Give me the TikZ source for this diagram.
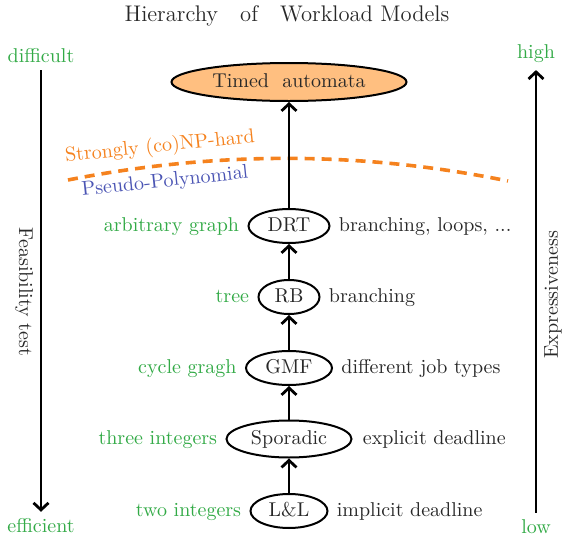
\documentclass[tikz,border=0pt]{standalone}
\usetikzlibrary{arrows.meta,shapes.geometric,positioning}
\definecolor{lblgreen}{RGB}{50,170,70}
\definecolor{hardorange}{RGB}{245,130,30}
\definecolor{pseudoblue}{RGB}{75,85,180}
\definecolor{txtgray}{RGB}{40,40,40}
\begin{document}
\begin{tikzpicture}[x=0.5pt,y=-0.5pt,
  every node/.style={text=txtgray},
  model/.style={ellipse,draw=black,line width=1pt,inner sep=0pt,
                text height=6.9pt,text depth=1.9pt},
  kind/.style={text=lblgreen,inner sep=0pt,text height=6.9pt,text depth=1.9pt},
  feat/.style={text=txtgray,inner sep=0pt,text height=6.9pt,text depth=1.9pt},
  endlbl/.style={text=lblgreen},
  up/.style={line width=1.4pt,-{Straight Barb[length=3.5pt,width=7.5pt]}},
  side/.style={line width=1.4pt,-{Straight Barb[length=3.5pt,width=7.5pt]}}]
\useasboundingbox (0,0) rectangle (564,536);

% title
\node[font=\fontsize{11.3}{13.5}\selectfont] (title) at (287,16) {Hierarchy~~~of~~~Workload Models};

% complexity border
\coordinate (cl) at (68,180);
\coordinate (cr) at (508,181);
\draw[hardorange,line width=1.8pt,dash pattern=on 5pt off 3.5pt]
  (cl) .. controls (215,151) and (361,151) .. (cr);
\node[text=hardorange,rotate=6] (hard) at (160,147) {Strongly (co)NP-hard};
\node[text=pseudoblue,rotate=6] (pseudo) at (165,182) {Pseudo-Polynomial};

% workload models
\node[model,fill=orange!50,minimum width=117.5pt,minimum height=19pt] (ta) at (289,82) {Timed~~automata};
\node[model,minimum width=40.5pt,minimum height=17pt] (drt) at (289,226) {DRT};
\node[model,minimum width=30.5pt,minimum height=17pt] (rb) at (289,297) {RB};
\node[model,minimum width=43pt,minimum height=17pt] (gmf) at (289,368) {GMF};
\node[model,minimum width=62.5pt,minimum height=18.5pt] (spo) at (289,439) {Sporadic};
\node[model,minimum width=38.5pt,minimum height=17pt] (ll) at (289,511) {L\&L};

% generalisation arrows
\draw[up] (drt) -- (ta);
\draw[up] (rb) -- (drt);
\draw[up] (gmf) -- (rb);
\draw[up] (spo) -- (gmf);
\draw[up] (ll) -- (spo);

% structure of each model
\node[kind,left=4pt of drt] (kdrt) {arbitrary graph};
\node[kind,left=4pt of rb] (krb) {tree};
\node[kind,left=4pt of gmf] (kgmf) {cycle gragh};
\node[kind,left=4pt of spo] (kspo) {three integers};
\node[kind,left=4pt of ll] (kll) {two integers};

% features of each model
\node[feat,right=4pt of drt] (fdrt) {branching, loops, ...};
\node[feat,right=4pt of rb] (frb) {branching};
\node[feat,right=4pt of gmf] (fgmf) {different job types};
\node[feat,right=5pt of spo] (fspo) {explicit deadline};
\node[feat,right=4pt of ll] (fll) {implicit deadline};

% feasibility axis
\node[endlbl] (diff) at (41,56) {difficult};
\node[endlbl] (eff) at (41,526) {efficient};
\draw[side] (diff) -- (eff);
\node[rotate=-90] (feas) at (24,292) {Feasibility test};

% expressiveness axis
\node[endlbl] (high) at (536,54) {high};
\node[endlbl] (low) at (536,527) {low};
\draw[side] (low) -- (high);
\node[rotate=90] (expr) at (553,295) {Expressiveness};
\end{tikzpicture}
\end{document}
